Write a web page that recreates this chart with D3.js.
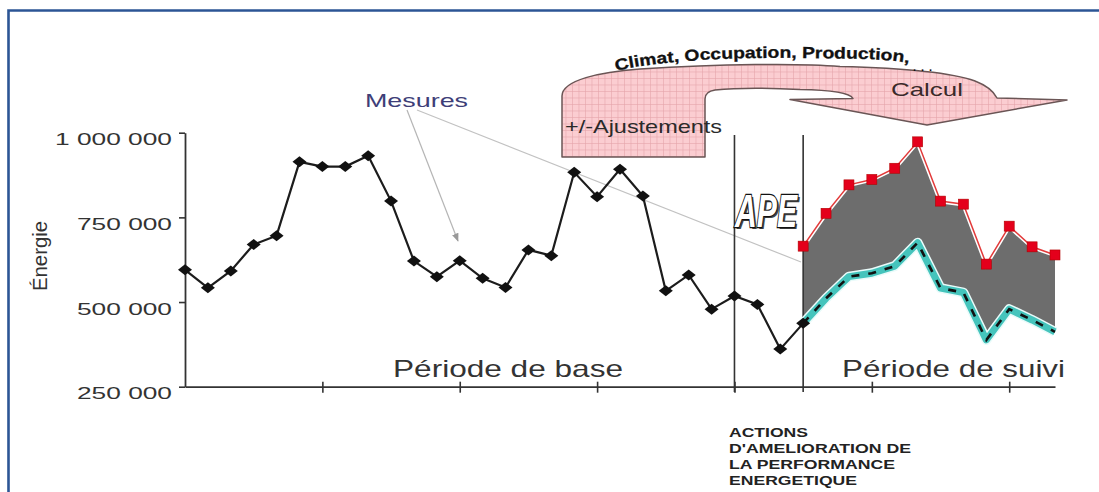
<!DOCTYPE html>
<html><head><meta charset="utf-8">
<script src="https://cdn.jsdelivr.net/npm/d3@7"></script>
<style>body{margin:0;background:#fff}svg{display:block;font-family:Arial,"Liberation Sans",sans-serif}</style>
</head><body>
<script>
// ---- data ----
const baseIndex = d3.range(0, 28);
const baseValues = [595000,542000,592000,670000,696000,914000,900000,900000,932000,798000,621000,575000,622000,570000,543000,654000,637000,883000,811000,892000,813000,533000,580000,479000,518000,493000,361000,437000];
const followIndex = d3.range(27, 39);
const adjustedValues = [665000,762000,846000,862000,895000,973000,798000,789000,612000,724000,663000,639000];
const measuredFollow = [437000,511000,575000,585000,606000,675000,541000,528000,388000,479000,447000,412000];
const yTickValues = [250000,500000,750000,1000000];
const yTickLabels = ["250 000","500 000","750 000","1 000 000"];
const xTickValues = [6,12,18,24,30,36];
const boundaryIndex = [24,27];
const actionLines = ["ACTIONS","D'AMELIORATION DE","LA PERFORMANCE","ENERGETIQUE"];

const W = 1099, H = 492;
const svg = d3.select("body").append("svg").attr("width", W).attr("height", H);
svg.append("rect").attr("width", W).attr("height", H).attr("fill", "#fff");

const defs = svg.append("defs");
const pat = defs.append("pattern").attr("id","grid").attr("patternUnits","userSpaceOnUse")
  .attr("width",6.5).attr("height",6.5);
pat.append("rect").attr("width",6.5).attr("height",6.5).attr("fill","#fbcdd1");
pat.append("path").attr("d","M0,0.3H6.5M0.3,0V6.5").attr("stroke","#e5a3ab").attr("stroke-width",0.7);

// frame
svg.append("path").attr("d","M8.5,492V10.5H1099").attr("fill","none")
  .attr("stroke","#2c5595").attr("stroke-width",2.6);

const x = d3.scaleLinear().domain([0,38]).range([185,1055]);
const y = d3.scaleLinear().domain([250000,1000000]).range([386.7,132.7]);

// ---- big arrow ----
svg.append("path")
  .attr("d","M562,157 L562,96 C562,80 600,72 640,69 C720,64 800,63 840,66.5 C900,68 950,72 975,81 C988,86 994,92 997,98 L1067,100 L927,125 L790,99.5 L853,98.5 C850,93 830,90 800,89.5 C770,88 735,88 715,90 C708,91 705,94 705,99 L705,157 Z")
  .attr("fill","url(#grid)").attr("stroke","#6a5555").attr("stroke-width",1.5).attr("stroke-linejoin","round");

defs.append("path").attr("id","arc").attr("d","M616,71 C660,60 740,57 800,58 S885,58 912,64");
svg.append("text").attr("font-size",16).attr("font-weight","bold").attr("fill","#111")
  .attr("stroke","#111").attr("stroke-width",0.3)
  .append("textPath").attr("href","#arc").attr("textLength",294).attr("lengthAdjust","spacingAndGlyphs")
  .text("Climat, Occupation, Production,");
svg.append("text").attr("x",913).attr("y",71).attr("font-size",11).attr("font-weight","bold")
  .attr("fill","#111").attr("textLength",19).attr("lengthAdjust","spacing").text("...");

svg.append("text").attr("x",891).attr("y",96).attr("font-size",19).attr("fill","#3a2a2a")
  .attr("textLength",72).attr("lengthAdjust","spacingAndGlyphs").text("Calcul");
svg.append("text").attr("x",565).attr("y",133).attr("font-size",18.5).attr("fill","#2a2a2a")
  .attr("textLength",157).attr("lengthAdjust","spacingAndGlyphs").text("+/-Ajustements");

// ---- Mesures annotation ----
defs.append("marker").attr("id","arr").attr("viewBox","0 0 10 10").attr("refX",9).attr("refY",5)
  .attr("markerWidth",7).attr("markerHeight",7).attr("orient","auto")
  .append("path").attr("d","M0,1L10,5L0,9Z").attr("fill","#999");
svg.append("line").attr("x1",407).attr("y1",110).attr("x2",458).attr("y2",241)
  .attr("stroke","#b5b5b5").attr("stroke-width",1.2).attr("marker-end","url(#arr)");
svg.append("line").attr("x1",417).attr("y1",110).attr("x2",801).attr("y2",262)
  .attr("stroke","#c2c2c2").attr("stroke-width",1.2);
svg.append("text").attr("x",365).attr("y",107).attr("font-size",19).attr("fill","#3e3e78")
  .attr("textLength",103).attr("lengthAdjust","spacingAndGlyphs").text("Mesures");

// ---- gray savings area ----
const follow = followIndex.map((d,i)=>({i:d, top:adjustedValues[i], bot:measuredFollow[i]}));
svg.append("path").datum(follow)
  .attr("d", d3.area().x(d=>x(d.i)).y0(d=>y(d.bot)).y1(d=>y(d.top)))
  .attr("fill","#6d6d6d");

// ---- axes ----
const yAxis = svg.append("g").attr("transform",`translate(${x(0)},0)`)
  .call(d3.axisLeft(y).tickValues(yTickValues).tickSizeInner(6).tickSizeOuter(0).tickPadding(7)
    .tickFormat((d,i)=>yTickLabels[i]));
yAxis.select(".domain").attr("stroke","#333").attr("stroke-width",1.8);
yAxis.selectAll(".tick line").attr("stroke","#333").attr("stroke-width",1.6);
yAxis.selectAll(".tick text").attr("font-family","Arial, 'Liberation Sans', sans-serif")
  .attr("font-size",16.5).attr("fill","#333").attr("y",7)
  .attr("textLength",(d,i)=>yTickLabels[i].length>7?117:95).attr("lengthAdjust","spacingAndGlyphs");

const xAxis = svg.append("g").attr("transform",`translate(0,${y(250000)})`)
  .call(d3.axisBottom(x).tickValues(xTickValues).tickSizeInner(6).tickSizeOuter(0).tickFormat(""));
xAxis.select(".domain").attr("stroke","#333").attr("stroke-width",1.8);
xAxis.selectAll(".tick line").attr("stroke","#333").attr("stroke-width",1.6).attr("y1",-5).attr("y2",6);

// boundaries
svg.selectAll(".bound").data(boundaryIndex).join("line")
  .attr("x1",d=>x(d)).attr("x2",d=>x(d)).attr("y1",135).attr("y2",392)
  .attr("stroke","#333").attr("stroke-width",1.6);

// ---- adjusted (red) line ----
svg.append("path").datum(follow).attr("d", d3.line().x(d=>x(d.i)).y(d=>y(d.top)))
  .attr("fill","none").attr("stroke","#fff").attr("stroke-width",4.5);
svg.append("path").datum(follow).attr("d", d3.line().x(d=>x(d.i)).y(d=>y(d.top)))
  .attr("fill","none").attr("stroke","#e23a3a").attr("stroke-width",1.5);
svg.selectAll(".sq").data(follow).join("rect")
  .attr("x",d=>x(d.i)-5).attr("y",d=>y(d.top)-5).attr("width",10).attr("height",10)
  .attr("fill","#e4001b").attr("stroke","#b30000").attr("stroke-width",0.6);

// ---- measured follow-up (teal + dashes) ----
const botLine = d3.line().x(d=>x(d.i)).y(d=>y(d.bot));
svg.append("path").datum(follow).attr("d", botLine).attr("fill","none")
  .attr("stroke","#e9fbfa").attr("stroke-width",10).attr("stroke-linejoin","round");
svg.append("path").datum(follow).attr("d", botLine).attr("fill","none")
  .attr("stroke","#45c4bc").attr("stroke-width",7).attr("stroke-linejoin","round");
svg.append("path").datum(follow).attr("d", botLine).attr("fill","none")
  .attr("stroke","#111").attr("stroke-width",2.6).attr("stroke-dasharray","8,9");

// ---- base period (black diamonds) ----
const base = baseIndex.map((d,i)=>({i:d, v:baseValues[i]}));
svg.append("path").datum(base).attr("d", d3.line().x(d=>x(d.i)).y(d=>y(d.v)))
  .attr("fill","none").attr("stroke","#1c1c1c").attr("stroke-width",2.2);
svg.selectAll(".dia").data(base).join("path")
  .attr("d",d=>{const cx=x(d.i), cy=y(d.v); return `M${cx-7},${cy}L${cx},${cy-5.5}L${cx+7},${cy}L${cx},${cy+5.5}Z`;})
  .attr("fill","#111");

// ---- APE ----
svg.append("text").attr("x",737).attr("y",229).attr("font-size",46).attr("font-weight","bold")
  .attr("font-style","italic").attr("fill","#444").attr("textLength",62).attr("lengthAdjust","spacingAndGlyphs").text("APE");
svg.append("text").attr("x",735).attr("y",227).attr("font-size",46).attr("font-weight","bold")
  .attr("font-style","italic").attr("fill","#fff").attr("stroke","#111").attr("stroke-width",2.4)
  .attr("paint-order","stroke").attr("textLength",62).attr("lengthAdjust","spacingAndGlyphs").text("APE");

// ---- labels ----
svg.append("text").attr("transform","translate(47,256) rotate(-90)").attr("text-anchor","middle")
  .attr("font-size",20).attr("fill","#333").attr("textLength",70).attr("lengthAdjust","spacingAndGlyphs")
  .text("Énergie");
svg.append("text").attr("x",393).attr("y",376.5).attr("font-size",24).attr("fill","#333")
  .attr("textLength",230).attr("lengthAdjust","spacingAndGlyphs").text("Période de base");
svg.append("text").attr("x",842).attr("y",376.5).attr("font-size",24).attr("fill","#333")
  .attr("textLength",223).attr("lengthAdjust","spacingAndGlyphs").text("Période de suivi");

const actW = [79,182,166,128];
svg.selectAll(".act").data(actionLines).join("text")
  .attr("x",729).attr("y",(d,i)=>436.5+i*16).attr("font-size",12).attr("font-weight","bold")
  .attr("fill","#222").attr("textLength",(d,i)=>actW[i]).attr("lengthAdjust","spacingAndGlyphs").text(d=>d);
</script>
</body></html>
